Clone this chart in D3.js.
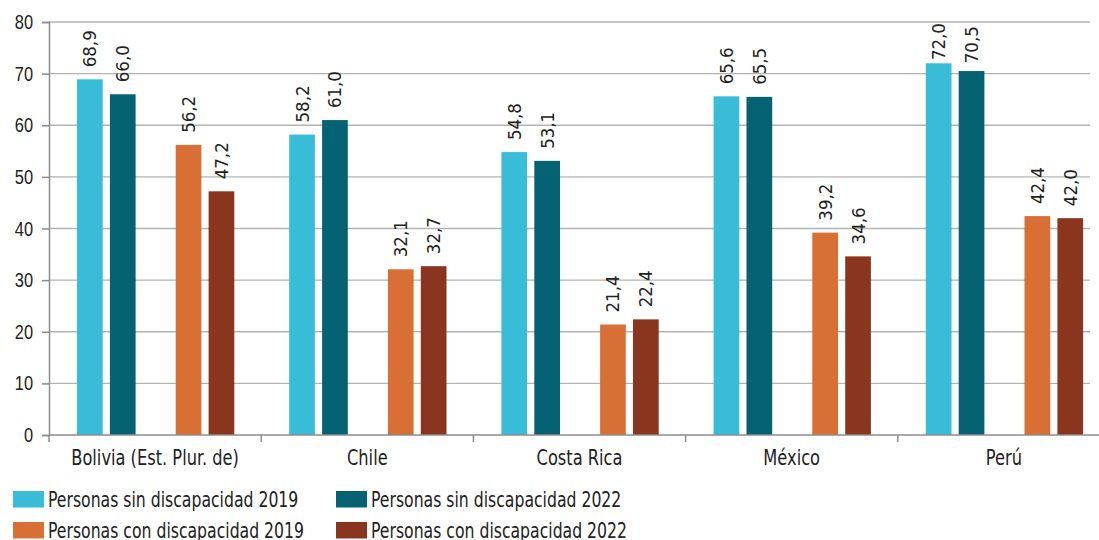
<!DOCTYPE html>
<html><head><meta charset="utf-8">
<script src="https://cdn.jsdelivr.net/npm/d3@7"></script>
<style>
body{margin:0;background:#fff;}
svg{display:block;font-family:"DejaVu Sans Condensed","DejaVu Sans",sans-serif;}
</style></head><body>
<svg id="c" width="1099" height="540"></svg>
<script>
const categories = ["Bolivia (Est. Plur. de)","Chile","Costa Rica","México","Perú"];
const seriesNames = ["Personas sin discapacidad 2019","Personas sin discapacidad 2022","Personas con discapacidad 2019","Personas con discapacidad 2022"];
const sin2019 = [68.9,58.2,54.8,65.6,72.0];
const sin2022 = [66.0,61.0,53.1,65.5,70.5];
const con2019 = [56.2,32.1,21.4,39.2,42.4];
const con2022 = [47.2,32.7,22.4,34.6,42.0];
const yTicks = [0,10,20,30,40,50,60,70,80];
const colors = ["#38BCD8","#046272","#D86F35","#8A361E"];

const series = [sin2019,sin2022,con2019,con2022];
const slotKeys = ["s0","s1","gap","s2","s3"];
const seriesSlot = ["s0","s1","s2","s3"];

const svg = d3.select("#c");
const x0 = d3.scaleBand().domain(categories).range([49,1110]);
const bw = x0.bandwidth();
const x1 = d3.scaleBand().domain(slotKeys).range([24.4,24.4+5*32.9]).paddingInner(0.219).paddingOuter(0.1095);
const y = d3.scaleLinear().domain([0,80]).range([435,22]);
const fmt = v => d3.format(".1f")(v).replace(".",",");
// labels near the top of the plot are pushed closer to their bars
const labelGap = v => Math.max(3, Math.min(12, (y(v) - 58) * 0.6));

// condense text horizontally (emulates the narrow typeface)
function condense(sel, f){
  sel.each(function(){
    const s = d3.select(this);
    const x = +s.attr("x") || 0, yy = +s.attr("y") || 0;
    const tr = s.attr("transform") || "";
    s.attr("x",0).attr("y",0).attr("transform", `${tr} translate(${x},${yy}) scale(${f},1)`);
  });
}

// gridlines
svg.append("g").selectAll("line").data(yTicks.filter(d=>d>0)).join("line")
  .attr("x1",49).attr("x2",1090).attr("y1",d=>y(d)).attr("y2",d=>y(d))
  .attr("stroke","#b3b3b3").attr("stroke-width",1.3);

// y axis
const ya = svg.append("g").attr("transform","translate(49,0)")
  .call(d3.axisLeft(y).tickValues(yTicks).tickSize(7).tickPadding(9));
ya.select(".domain").attr("stroke","#8c8c8c").attr("stroke-width",1.5);
ya.selectAll(".tick line").attr("stroke","#8c8c8c").attr("stroke-width",1.5);
ya.selectAll(".tick text").attr("font-size",20.5).attr("fill","#222").attr("font-family",null);
condense(ya.selectAll(".tick text"),0.8);

// bars
series.forEach((vals,si)=>{
  const g = svg.append("g");
  g.selectAll("rect").data(vals).join("rect")
    .attr("x",(d,i)=>x0(categories[i])+x1(seriesSlot[si]))
    .attr("width",x1.bandwidth())
    .attr("y",d=>y(d)).attr("height",d=>y(0)-y(d))
    .attr("fill",colors[si]);
  g.selectAll("text").data(vals).join("text")
    .attr("transform",(d,i)=>`translate(${x0(categories[i])+x1(seriesSlot[si])+x1.bandwidth()/2+6.5},${y(d)-labelGap(d)}) rotate(-90)`)
    .attr("font-size",18.5).attr("fill","#222")
    .text(d=>fmt(d));
});

// x axis
const xa = svg.append("g").attr("transform","translate(0,435)");
xa.append("line").attr("x1",49).attr("x2",1099).attr("y1",0).attr("y2",0)
  .attr("stroke","#8c8c8c").attr("stroke-width",1.5);
xa.selectAll(".tk").data(categories).join("line")
  .attr("x1",d=>x0(d)).attr("x2",d=>x0(d)).attr("y1",0).attr("y2",7)
  .attr("stroke","#8c8c8c").attr("stroke-width",1.5);
const ct = xa.selectAll("text").data(categories).join("text")
  .attr("x",d=>x0(d)+bw/2).attr("y",30).attr("text-anchor","middle")
  .attr("font-size",21.5).attr("fill","#222").text(d=>d);
condense(ct,0.84);

// legend
const legPos = [[13,491],[336,491],[13,522],[336,522]];
seriesNames.forEach((n,i)=>{
  const [lx,ly] = legPos[i];
  svg.append("rect").attr("x",lx).attr("y",ly).attr("width",31).attr("height",16.5).attr("fill",colors[i]);
  const lt = svg.append("text").attr("x",lx+35).attr("y",ly+15.5).attr("font-size",20.5).attr("fill","#222").text(n);
  condense(lt,0.85);
});
</script></body></html>
